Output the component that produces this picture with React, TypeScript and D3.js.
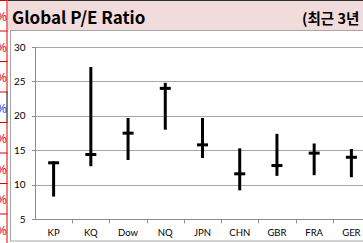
import React from "react";
import * as d3 from "d3";

const categories = ["KP", "KQ", "Dow", "NQ", "JPN", "CHN", "GBR", "FRA", "GER"];
const highValues = [13.4, 27.1, 19.7, 24.8, 19.7, 15.3, 17.4, 16.0, 15.2];
const lowValues = [8.3, 12.7, 13.6, 18.0, 13.9, 9.2, 11.3, 11.4, 11.1];
const currentValues = [13.2, 14.4, 17.5, 24.0, 15.8, 11.6, 12.8, 14.6, 14.0];
const yTicks = [5, 10, 15, 20, 25, 30];
const title = "Global P/E Ratio";
const subtitle = "(최근 3년";
const sideCells = ["red", "red", "red", "blue", "red", "red", "red", "red"];

const W = 363;
const H = 243;

export default function App() {
  const x = d3.scaleBand<string>().domain(categories).range([35, 370]).padding(0);
  const y = d3.scaleLinear().domain([5, 30]).range([219.3, 47]);
  const labelFont = "Lato, 'Liberation Sans', sans-serif";
  const rowH = 30.5;

  return (
    <svg
      width={W}
      height={H}
      style={{ position: "fixed", left: 0, top: 0, background: "#fff" }}
    >
      <defs>
        <clipPath id="sideClip">
          <rect x={0} y={0} width={7} height={H} />
        </clipPath>
      </defs>
      {/* left spreadsheet strip */}
      <g>
        {sideCells.map((c, i) => (
          <g key={i}>
            <text
              x={7}
              y={i * rowH + 21}
              textAnchor="end"
              fontSize={13}
              fontFamily="'Noto Sans', sans-serif"
              fill={c === "blue" ? "#4a4aff" : "#e02020"}
              clipPath="url(#sideClip)"
            >
              %
            </text>
            <line
              x1={0}
              x2={7.5}
              y1={i * rowH + 0.5}
              y2={i * rowH + 0.5}
              stroke="#e00000"
              strokeWidth={1}
            />
            <line
              x1={7}
              x2={7}
              y1={i * rowH}
              y2={(i + 1) * rowH}
              stroke={c === "blue" ? "#000" : "#e00000"}
              strokeWidth={1}
            />
          </g>
        ))}
      </g>
      {/* title bar */}
      <rect x={8} y={0} width={W - 8} height={30} fill="#f2dcdb" />
      <line x1={8} x2={W} y1={0.5} y2={0.5} stroke="#333" strokeWidth={1} />
      <text
        x={12}
        y={24}
        fontSize={17}
        fontWeight={700}
        fontFamily="'Noto Sans CJK KR', sans-serif"
        fill="#000"
      >
        {title}
      </text>
      <text
        x={302}
        y={24}
        fontSize={14.5}
        fontWeight={700}
        fontFamily="'Noto Sans CJK KR', sans-serif"
        fill="#000"
      >
        {subtitle}
      </text>
      {/* chart frame */}
      <rect
        x={10.5}
        y={30.5}
        width={W}
        height={210.5}
        fill="#fff"
        stroke="#a6a6a6"
        strokeWidth={1}
      />
      {/* gridlines */}
      {yTicks.map((t) => (
        <line
          key={"g" + t}
          x1={35}
          x2={W}
          y1={Math.round(y(t)) + 0.5}
          y2={Math.round(y(t)) + 0.5}
          stroke={t === 5 ? "#8c8c8c" : "#a6a6a6"}
          strokeWidth={1}
        />
      ))}
      {/* y axis */}
      <line x1={35.5} x2={35.5} y1={y(30)} y2={y(5) + 1} stroke="#8c8c8c" />
      {yTicks.map((t) => (
        <g key={"yt" + t}>
          <line
            x1={32}
            x2={35}
            y1={Math.round(y(t)) + 0.5}
            y2={Math.round(y(t)) + 0.5}
            stroke="#8c8c8c"
          />
          <text
            x={25.5}
            y={y(t) + 3.5}
            textAnchor="end"
            fontSize={10}
            fontFamily={labelFont}
            fill="#000"
          >
            {t}
          </text>
        </g>
      ))}
      {/* x axis ticks and labels */}
      {categories.map((c, i) => (
        <g key={"xt" + c}>
          {i > 0 && (
            <line
              x1={Math.round(x(c)!) + 0.5}
              x2={Math.round(x(c)!) + 0.5}
              y1={y(5)}
              y2={y(5) + 4}
              stroke="#8c8c8c"
            />
          )}
          <text
            x={x(c)! + x.bandwidth() / 2}
            y={236}
            textAnchor="middle"
            fontSize={9.5}
            fontFamily={labelFont}
            fill="#000"
          >
            {c}
          </text>
        </g>
      ))}
      {/* high-low-current marks */}
      {categories.map((c, i) => {
        const cx = x(c)! + x.bandwidth() / 2;
        return (
          <g key={"m" + c}>
            <line
              x1={cx}
              x2={cx}
              y1={y(highValues[i])}
              y2={y(lowValues[i])}
              stroke="#000"
              strokeWidth={3}
            />
            <line
              x1={cx - 5.5}
              x2={cx + 5.5}
              y1={y(currentValues[i])}
              y2={y(currentValues[i])}
              stroke="#000"
              strokeWidth={3}
            />
          </g>
        );
      })}
    </svg>
  );
}
